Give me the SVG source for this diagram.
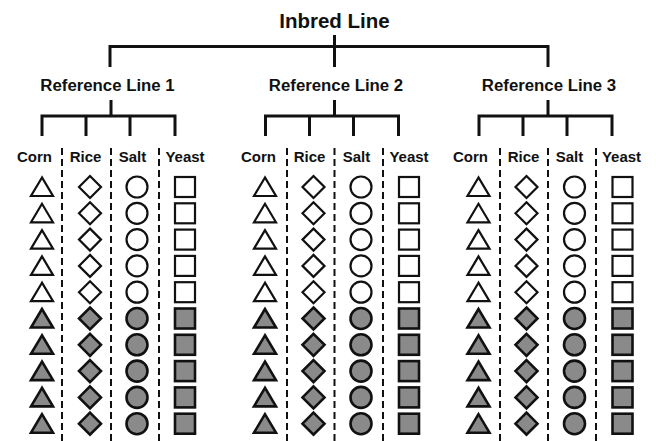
<svg xmlns="http://www.w3.org/2000/svg" xmlns:xlink="http://www.w3.org/1999/xlink" width="656" height="441" viewBox="0 0 656 441">
  <style>
    text { font-family: "Liberation Sans", Arial, sans-serif; font-weight: bold; fill: #111; text-anchor: middle; }
    .title { font-size: 20.5px; }
    .ref { font-size: 16.8px; }
    .col { font-size: 15px; }
    .bracket { fill: none; stroke: #111; stroke-width: 3; stroke-linecap: butt; stroke-linejoin: miter; }
    .divider { stroke: #111; stroke-width: 2; stroke-dasharray: 7 4; }
    .shape { stroke: #111; stroke-width: 2.2; }
    .open { fill: #fff; }
    .filled { fill: #8a8a8a; stroke-width: 2.6; }
  </style>
  <defs>
    <polygon id="tri" points="0,-9.5 -11,9 11,9"/>
    <polygon id="dia" points="0,-11 11,0 0,11 -11,0"/>
    <circle id="circ" r="10.5"/>
    <rect id="sq" x="-10" y="-10" width="20" height="20"/>
    <!-- one column of ten samples: five open, five filled -->
    <g id="col-tri" class="shape">
      <use href="#tri" class="open" y="187"/>
      <use href="#tri" class="open" y="213.3"/>
      <use href="#tri" class="open" y="239.6"/>
      <use href="#tri" class="open" y="265.9"/>
      <use href="#tri" class="open" y="292.2"/>
      <use href="#tri" class="filled" y="318.5"/>
      <use href="#tri" class="filled" y="344.8"/>
      <use href="#tri" class="filled" y="371.1"/>
      <use href="#tri" class="filled" y="397.4"/>
      <use href="#tri" class="filled" y="423.7"/>
    </g>
    <g id="col-dia" class="shape">
      <use href="#dia" class="open" y="187"/>
      <use href="#dia" class="open" y="213.3"/>
      <use href="#dia" class="open" y="239.6"/>
      <use href="#dia" class="open" y="265.9"/>
      <use href="#dia" class="open" y="292.2"/>
      <use href="#dia" class="filled" y="318.5"/>
      <use href="#dia" class="filled" y="344.8"/>
      <use href="#dia" class="filled" y="371.1"/>
      <use href="#dia" class="filled" y="397.4"/>
      <use href="#dia" class="filled" y="423.7"/>
    </g>
    <g id="col-circ" class="shape">
      <use href="#circ" class="open" y="187"/>
      <use href="#circ" class="open" y="213.3"/>
      <use href="#circ" class="open" y="239.6"/>
      <use href="#circ" class="open" y="265.9"/>
      <use href="#circ" class="open" y="292.2"/>
      <use href="#circ" class="filled" y="318.5"/>
      <use href="#circ" class="filled" y="344.8"/>
      <use href="#circ" class="filled" y="371.1"/>
      <use href="#circ" class="filled" y="397.4"/>
      <use href="#circ" class="filled" y="423.7"/>
    </g>
    <g id="col-sq" class="shape">
      <use href="#sq" class="open" y="187"/>
      <use href="#sq" class="open" y="213.3"/>
      <use href="#sq" class="open" y="239.6"/>
      <use href="#sq" class="open" y="265.9"/>
      <use href="#sq" class="open" y="292.2"/>
      <use href="#sq" class="filled" y="318.5"/>
      <use href="#sq" class="filled" y="344.8"/>
      <use href="#sq" class="filled" y="371.1"/>
      <use href="#sq" class="filled" y="397.4"/>
      <use href="#sq" class="filled" y="423.7"/>
    </g>
  </defs>

  <rect width="656" height="441" fill="#fff"/>

  <!-- tree connectors -->
  <g id="connectors">
    <path class="bracket" d="M110 67 V46.5 H548 V67 M334.5 35 V67"/>
    <path class="bracket" d="M42 136 V116 H175 V136 M86 116 V136 M130 116 V136 M111 100 V116"/>
    <path class="bracket" d="M265.5 136 V116 H398.5 V136 M309.5 116 V136 M353.5 116 V136 M334.5 100 V116"/>
    <path class="bracket" d="M479 136 V116 H612 V136 M523 116 V136 M567 116 V136 M548 100 V116"/>
  </g>

  <g id="inbred-line">
    <text class="title" x="334.5" y="28">Inbred Line</text>
  </g>
  <g id="reference-line-1">
    <text class="ref" x="107.5" y="91">Reference Line 1</text>
  </g>
  <g id="reference-line-2">
    <text class="ref" x="336" y="91">Reference Line 2</text>
  </g>
  <g id="reference-line-3">
    <text class="ref" x="549" y="91">Reference Line 3</text>
  </g>

  <!-- line 1 media columns -->
  <g id="line1-dividers">
    <line class="divider" x1="62" y1="148" x2="62" y2="441"/>
    <line class="divider" x1="111" y1="148" x2="111" y2="441"/>
    <line class="divider" x1="159" y1="148" x2="159" y2="441"/>
  </g>
  <g id="line1-corn"><text class="col" x="34.5" y="162">Corn</text><use href="#col-tri" x="42"/></g>
  <g id="line1-rice"><text class="col" x="85.5" y="162">Rice</text><use href="#col-dia" x="90"/></g>
  <g id="line1-salt"><text class="col" x="132.5" y="162">Salt</text><use href="#col-circ" x="137"/></g>
  <g id="line1-yeast"><text class="col" x="185" y="162">Yeast</text><use href="#col-sq" x="185"/></g>

  <!-- line 2 media columns -->
  <g id="line2-dividers">
    <line class="divider" x1="287" y1="148" x2="287" y2="441"/>
    <line class="divider" x1="334.5" y1="148" x2="334.5" y2="441"/>
    <line class="divider" x1="383" y1="148" x2="383" y2="441"/>
  </g>
  <g id="line2-corn"><text class="col" x="258.5" y="162">Corn</text><use href="#col-tri" x="265"/></g>
  <g id="line2-rice"><text class="col" x="309.5" y="162">Rice</text><use href="#col-dia" x="313.5"/></g>
  <g id="line2-salt"><text class="col" x="356.5" y="162">Salt</text><use href="#col-circ" x="361"/></g>
  <g id="line2-yeast"><text class="col" x="409" y="162">Yeast</text><use href="#col-sq" x="409"/></g>

  <!-- line 3 media columns -->
  <g id="line3-dividers">
    <line class="divider" x1="500" y1="148" x2="500" y2="441"/>
    <line class="divider" x1="548" y1="148" x2="548" y2="441"/>
    <line class="divider" x1="596" y1="148" x2="596" y2="441"/>
  </g>
  <g id="line3-corn"><text class="col" x="470.5" y="162">Corn</text><use href="#col-tri" x="478.5"/></g>
  <g id="line3-rice"><text class="col" x="523.5" y="162">Rice</text><use href="#col-dia" x="526.5"/></g>
  <g id="line3-salt"><text class="col" x="569.5" y="162">Salt</text><use href="#col-circ" x="574.5"/></g>
  <g id="line3-yeast"><text class="col" x="621.5" y="162">Yeast</text><use href="#col-sq" x="622.5"/></g>
</svg>
